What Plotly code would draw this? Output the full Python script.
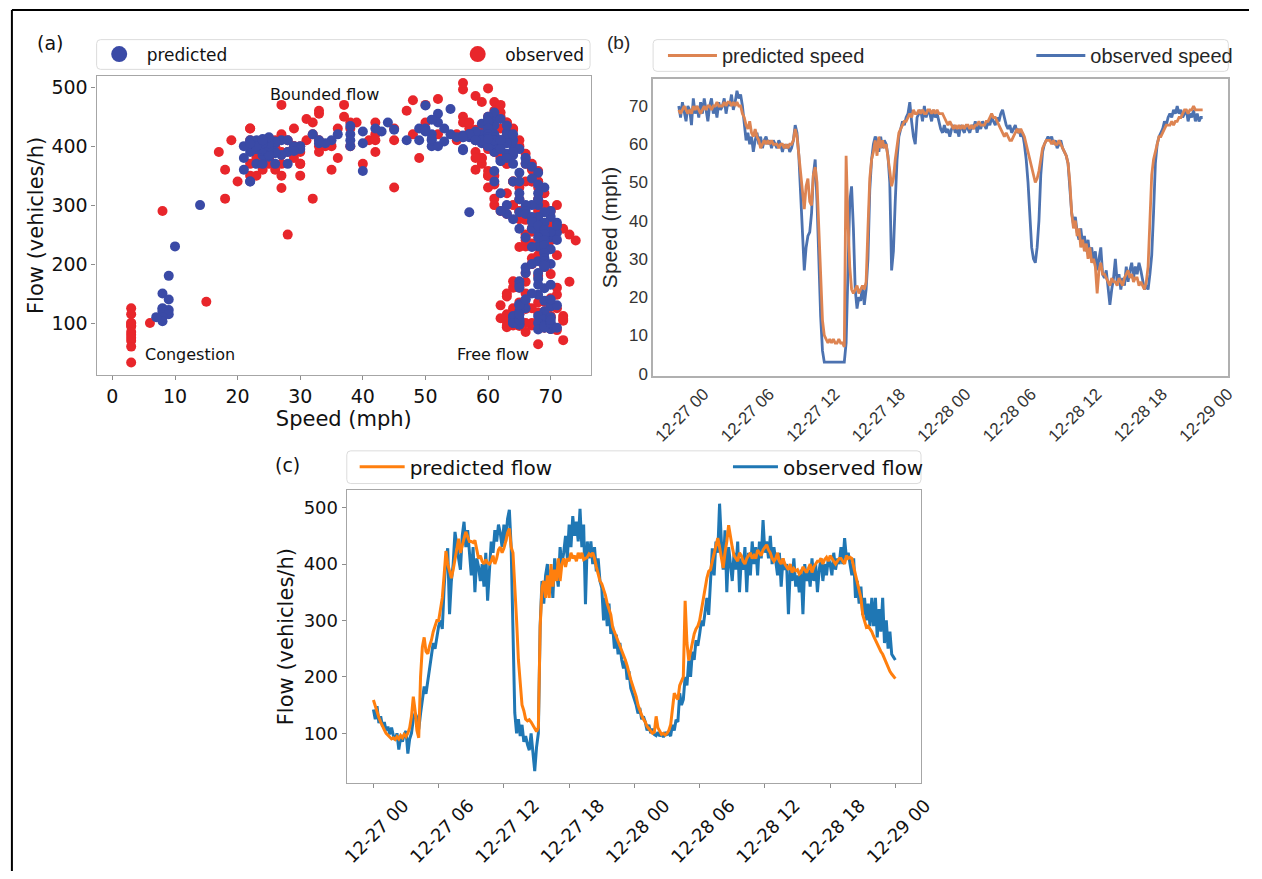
import pandas as pd
import plotly.graph_objects as go

# ---------------- data (10-minute samples, 12-27 00:00 -> 12-29 00:00) ----------------
start_time = "2017-12-27 00:00"
end_time = "2017-12-29 00:00"
step = "10min"

observed_speed = [
    70, 67, 71, 68, 66, 70,  69, 65, 72, 68, 70, 67,  71, 68, 72, 69, 66, 70,
    72, 68, 70, 67, 71, 69,  70, 72, 68, 71, 70, 73,  69, 71, 74, 72, 73, 70,
    65, 61, 63, 60, 62, 58,  61, 63, 60, 62, 59, 61,  62, 60, 61, 59, 61, 60,
    59, 61, 60, 58, 60, 59,  60, 58, 59, 61, 65, 63,  57, 47, 38, 27, 33, 36,
    37, 42, 52, 56, 45, 28,  15, 6, 3, 3, 3, 3,       3, 3, 3, 3, 3, 3,
    3, 3, 8, 30, 45, 49,     38, 22, 17, 20, 19, 23,  18, 22, 30, 48, 56, 60,
    62, 61, 58, 62, 59, 61,  60, 57, 50, 27, 32, 45,  56, 62, 64, 66, 65, 67,
    68, 71, 66, 62, 60, 67,  68, 69, 66, 70, 67, 69,  68, 66, 69, 67, 68, 66,
    64, 63, 65, 63, 64, 62,  64, 65, 63, 64, 62, 65,  64, 63, 65, 64, 63, 65,
    64, 66, 63, 65, 64, 66,  65, 64, 66, 65, 67, 66,  65, 67, 66, 68, 69, 67,
    65, 64, 65, 63, 64, 65,  63, 64, 62, 63, 60, 56,  50, 42, 33, 30, 29, 33,
    40, 52, 58, 60, 61, 62,  61, 62, 60, 61, 59, 60,  61, 59, 58, 57, 55, 48,
    42, 39, 41, 37, 35, 38,  34, 36, 32, 35, 31, 33,  29, 32, 27, 30, 33, 26,
    25, 27, 23, 18, 22, 25,  30, 24, 26, 22, 25, 23,  28, 24, 27, 29, 25, 28,
    26, 29, 27, 24, 22, 23,  22, 26, 31, 42, 55, 60,  62, 63, 64, 66, 65, 67,
    68, 67, 69, 68, 70, 68,  69, 67, 68, 69, 66, 68,  67, 69, 66, 68, 66, 67,
    67,
]

predicted_speed = [
    69, 68, 69, 70, 69, 68,  69, 68, 70, 69, 70, 69,  68, 69, 70, 69, 70, 70,
    69, 70, 70, 71, 70, 70,  70, 71, 70, 71, 71, 70,  71, 70, 71, 70, 70, 68,
    67, 65, 64, 66, 63, 62,  64, 62, 61, 59, 60, 61,  60, 61, 60, 61, 60, 60,
    60, 59, 60, 60, 59, 60,  59, 60, 60, 61, 64, 62,  57, 51, 47, 43, 49, 51,
    45, 44, 52, 54, 50, 38,  26, 14, 10, 9, 8, 9,     8, 9, 8, 8, 9, 8,
    8, 7, 57, 40, 28, 22,    21, 22, 23, 21, 22, 23,  22, 24, 38, 51, 56, 58,
    61, 57, 62, 59, 61, 59,  60, 57, 53, 49, 51, 56,  60, 63, 64, 65, 66, 66,
    67, 68, 67, 69, 68, 68,  69, 68, 69, 68, 68, 69,  69, 68, 69, 68, 69, 68,
    68, 68, 67, 66, 65, 66,  65, 64, 65, 64, 65, 64,  65, 64, 65, 65, 64, 65,
    64, 65, 65, 66, 65, 65,  65, 66, 66, 67, 68, 67,  67, 66, 65, 64, 63, 62,
    63, 62, 61, 61, 62, 63,  64, 63, 64, 63, 62, 60,  58, 56, 54, 52, 50, 51,
    53, 56, 59, 60, 61, 61,  61, 60, 61, 60, 60, 61,  60, 59, 58, 57, 55, 50,
    42, 38, 40, 36, 38, 33,  35, 32, 34, 30, 33, 29,  30, 28, 21, 27, 29, 26,
    26, 25, 24, 23, 25, 24,  24, 23, 25, 24, 23, 25,  26, 27, 25, 26, 24, 25,
    25, 23, 24, 23, 22, 24,  28, 40, 52, 56, 58, 60,  62, 62, 63, 64, 65, 65,
    65, 66, 65, 66, 66, 67,  67, 68, 69, 69, 68, 69,  69, 70, 69, 69, 69, 69,
    69,
]

observed_flow = [
    142, 125, 148, 118, 130, 112,  120, 105, 112, 98, 110, 96,    88, 100, 71, 92, 85, 98,
    104, 64, 90, 100, 125, 136,    128, 107, 135, 160, 183, 170,  195, 215, 240, 260, 250, 270,
    290, 300, 285, 358, 410, 428,  311, 370, 400, 457, 430, 410,  390, 450, 475, 430, 460, 410,
    380, 430, 350, 410, 395, 370,  400, 360, 420, 335, 400, 440,  420, 460, 440, 470, 455, 430,
    470, 440, 480, 496, 430, 250,  136, 100, 125, 95, 115, 85,    95, 80, 70, 100, 60, 33,
    75, 100, 290, 370, 330, 380,   400, 350, 390, 340, 410, 380,  360, 430, 400, 420, 450, 410,
    470, 430, 485, 450, 475, 440,  498, 430, 470, 329, 440, 410,  440, 400, 430, 387, 410, 370,
    358, 300, 340, 290, 330, 276,  290, 250, 275, 240, 260, 230,  215, 230, 195, 210, 180, 170,
    160, 150, 135, 145, 125, 130,  120, 105, 115, 100, 108, 98,   96, 102, 95, 100, 93, 102,
    98, 100, 95, 115, 105, 124,    120, 171, 150, 160, 200, 185,  229, 200, 245, 230, 265, 255,
    276, 300, 290, 320, 340, 310,  370, 428, 380, 440, 420, 507,  440, 390, 460, 350, 430, 400,
    370, 420, 390, 440, 350, 410,  390, 430, 350, 420, 380, 440,  400, 430, 380, 440, 410, 478,
    420, 440, 410, 450, 400, 430,  400, 380, 420, 360, 410, 390,  400, 311, 390, 370, 410, 360,
    380, 350, 390, 311, 400, 370,  390, 360, 410, 370, 400, 350,  390, 410, 370, 400, 380, 410,
    400, 380, 420, 390, 410, 400,  430, 400, 446, 410, 420, 400,  380, 410, 340, 370, 330, 360,
    310, 340, 300, 330, 290, 340,  290, 340, 270, 320, 280, 340,  260, 300, 250, 280, 240, 235,
    230,
]

predicted_flow = [
    159, 148, 138, 128, 120, 112,  106, 100, 96, 93, 90, 92,      89, 94, 90, 96, 92, 98,
    94, 100, 110, 130, 165, 140,   105, 92, 200, 253, 270, 245,   241, 255, 265, 280, 290, 300,
    300, 320, 340, 380, 423, 400,  385, 375, 390, 410, 430, 445,  420, 435, 445, 457, 450, 440,
    440, 438, 442, 425, 410, 415,  405, 400, 408, 402, 400, 405,  415, 400, 410, 425, 430, 420,
    428, 440, 455, 463, 430, 420,  370, 300, 230, 180, 150, 140,  125, 122, 124, 120, 115, 110,
    103, 110, 288, 358, 370, 340,  380, 340, 400, 360, 390, 370,  410, 370, 400, 410, 395, 410,
    405, 420, 410, 415, 405, 420,  410, 420, 408, 410, 412, 418,  415, 420, 410, 395, 380, 370,
    365, 355, 345, 330, 320, 310,  288, 280, 270, 262, 255, 248,  241, 230, 220, 205, 195, 185,
    175, 165, 150, 140, 132, 125,  120, 112, 108, 104, 100, 102,  130, 110, 103, 98, 100, 97,
    100, 105, 115, 140, 171, 165,  160, 185, 194, 200, 335, 260,  229, 245, 260, 276, 285, 290,
    300, 320, 340, 358, 375, 387,  390, 405, 420, 435, 446, 430,  410, 393, 420, 440, 469, 445,
    430, 415, 410, 405, 420, 415,  405, 400, 410, 415, 420, 410,  415, 410, 425, 420, 415, 425,
    430, 434, 425, 420, 410, 405,  410, 420, 405, 400, 410, 400,  395, 390, 400, 385, 392, 388,
    390, 382, 385, 395, 390, 385,  392, 400, 385, 395, 400, 405,  405, 410, 400, 408, 412, 405,
    415, 410, 405, 400, 405, 410,  410, 405, 400, 415, 410, 412,  410, 395, 380, 370, 355, 340,
    310, 300, 288, 290, 285, 280,  272, 265, 258, 250, 245, 240,  232, 225, 218, 210, 205, 200,
    197,
]

scatter_speed_ticks = [0, 10, 20, 30, 40, 50, 60, 70]
scatter_flow_ticks = [100, 200, 300, 400, 500]
speed_ticks = [0, 10, 20, 30, 40, 50, 60, 70]
flow_ticks = [100, 200, 300, 400, 500]

# ---------------- styling ----------------
W, H = 1262, 879
DV = "DejaVu Sans"
AR = "Liberation Sans"
BLACK = "#111111"
A_BLUE = "#3a4aa6"
A_RED = "#e8262b"
B_ORANGE = "#dd8452"
B_BLUE = "#4c72b0"
C_ORANGE = "#ff7f0e"
C_BLUE = "#1f77b4"


def px(x):
    return x / W


def py(y):
    return 1 - y / H


times = pd.date_range(start_time, periods=len(observed_speed), freq=step)
t0 = pd.Timestamp(start_time)
time_ticks = pd.date_range(start_time, end_time, freq="6h")
time_tick_text = [t.strftime("%m-%d %H") for t in time_ticks]


def trange(a, b):
    return [str(t0 + pd.Timedelta(hours=a)), str(t0 + pd.Timedelta(hours=b))]


fig = go.Figure()

# (a) scatter: speed vs flow pairs
fig.add_trace(go.Scatter(x=observed_speed, y=observed_flow, mode="markers",
                         marker=dict(color=A_RED, size=10, line=dict(width=0)),
                         xaxis="x", yaxis="y", showlegend=False, hoverinfo="skip"))
fig.add_trace(go.Scatter(x=predicted_speed, y=predicted_flow, mode="markers",
                         marker=dict(color=A_BLUE, size=10, line=dict(width=0)),
                         xaxis="x", yaxis="y", showlegend=False, hoverinfo="skip"))
fig.add_trace(go.Scatter(x=[None], y=[None], mode="markers", name="predicted",
                         marker=dict(color=A_BLUE, size=17), xaxis="x", yaxis="y",
                         legend="legend"))
fig.add_trace(go.Scatter(x=[None], y=[None], mode="markers", name="observed",
                         marker=dict(color=A_RED, size=17), xaxis="x", yaxis="y",
                         legend="legend2"))

# (b) speed
fig.add_trace(go.Scatter(x=times, y=observed_speed, mode="lines", name="observed speed",
                         line=dict(color=B_BLUE, width=2.8), xaxis="x2", yaxis="y2",
                         legend="legend4"))
fig.add_trace(go.Scatter(x=times, y=predicted_speed, mode="lines", name="predicted speed",
                         line=dict(color=B_ORANGE, width=2.8), xaxis="x2", yaxis="y2",
                         legend="legend3"))

# (c) flow
fig.add_trace(go.Scatter(x=times, y=observed_flow, mode="lines", name="observed flow",
                         line=dict(color=C_BLUE, width=3), xaxis="x3", yaxis="y3",
                         legend="legend6"))
fig.add_trace(go.Scatter(x=times, y=predicted_flow, mode="lines", name="predicted flow",
                         line=dict(color=C_ORANGE, width=3), xaxis="x3", yaxis="y3",
                         legend="legend5"))


def leg(x_px, y_px, size, family, color, itemwidth):
    return dict(x=px(x_px), y=py(y_px), xanchor="left", yanchor="middle",
                orientation="h", bgcolor="rgba(0,0,0,0)", borderwidth=0,
                font=dict(size=size, family=family, color=color),
                itemwidth=itemwidth, itemclick=False, itemdoubleclick=False)


frame_a = dict(showline=True, mirror=True, linecolor="#a6a6a6", linewidth=1.3,
               showgrid=False, zeroline=False, ticks="outside", ticklen=4,
               tickcolor="#8c8c8c", tickwidth=1)
frame_b = dict(showline=True, mirror=True, linecolor="#b0b0b0", linewidth=1.6,
               showgrid=False, zeroline=False, ticks="")

fig.update_layout(
    width=W, height=H, margin=dict(l=0, r=0, t=0, b=0),
    paper_bgcolor="white", plot_bgcolor="white",
    font=dict(family=DV, color=BLACK),
    xaxis=dict(domain=[px(92), px(594)], range=[-2.52, 76.45], anchor="y",
               tickvals=scatter_speed_ticks, tickfont=dict(size=19, family=DV, color=BLACK),
               title=dict(text="Speed (mph)", font=dict(size=21, family=DV, color=BLACK), standoff=0),
               **frame_a),
    yaxis=dict(domain=[py(378), py(77)], range=[12.6, 518.5], anchor="x",
               tickvals=scatter_flow_ticks, tickfont=dict(size=19, family=DV, color=BLACK),
               title=dict(text="Flow (vehicles/h)", font=dict(size=21, family=DV, color=BLACK), standoff=2),
               **frame_a),
    xaxis2=dict(domain=[px(657), px(1241)], range=trange(-2.35, 50.35), anchor="y2", type="date",
                tickvals=list(time_ticks), ticktext=time_tick_text, tickangle=-45,
                ticklabelshift=25,
                tickfont=dict(size=17, family=AR, color="#333333"), **frame_b),
    yaxis2=dict(domain=[py(379), py(80)], range=[-0.52, 77.0], anchor="x2",
                tickvals=speed_ticks, tickfont=dict(size=17, family=AR, color="#333333"),
                title=dict(text="Speed (mph)", font=dict(size=21, family=AR, color="#262626"), standoff=6),
                **frame_b),
    xaxis3=dict(domain=[px(346), px(929)], range=trange(-2.45, 50.36), anchor="y3", type="date",
                tickvals=list(time_ticks), ticktext=time_tick_text, tickangle=-45,
                ticklabelshift=30,
                tickfont=dict(size=18, family=DV, color=BLACK), **frame_a),
    yaxis3=dict(domain=[py(790), py(495)], range=[12.2, 530.4], anchor="x3",
                tickvals=flow_ticks, tickfont=dict(size=18, family=DV, color=BLACK),
                title=dict(text="Flow (vehicles/h)", font=dict(size=21, family=DV, color=BLACK), standoff=4),
                **frame_a),
    legend=leg(87, 55, 17, DV, BLACK, 45),
    legend2=leg(451, 55, 17, DV, BLACK, 45),
    legend3=leg(667, 56, 20, AR, "#262626", 49),
    legend4=leg(1041, 56, 20, AR, "#262626", 49),
    legend5=leg(354, 471, 20, DV, BLACK, 45),
    legend6=leg(733, 471, 20, DV, BLACK, 45),
)


def rounded_box(x0, y0, x1, y1, r=4):
    X0, X1 = px(x0), px(x1)
    Y0, Y1 = py(y1), py(y0)  # bottom, top in paper
    rx, ry = r / W, r / H
    return (f"M {X0+rx},{Y1} L {X1-rx},{Y1} Q {X1},{Y1} {X1},{Y1-ry} "
            f"L {X1},{Y0+ry} Q {X1},{Y0} {X1-rx},{Y0} L {X0+rx},{Y0} "
            f"Q {X0},{Y0} {X0},{Y0+ry} L {X0},{Y1-ry} Q {X0},{Y1} {X0+rx},{Y1} Z")


shapes = []
for box in [(92, 40, 593, 70), (657, 40, 1241, 72), (346, 455, 929, 488)]:
    shapes.append(dict(type="path", path=rounded_box(*box), xref="paper", yref="paper",
                       line=dict(color="#dcdcdc", width=1), fillcolor="white", layer="below"))
# outer black frame (top and left edges)
shapes.append(dict(type="line", xref="paper", yref="paper", x0=px(6), x1=1, y0=py(10), y1=py(10),
                   line=dict(color="black", width=2)))
shapes.append(dict(type="line", xref="paper", yref="paper", x0=px(6), x1=px(6), y0=py(10), y1=0,
                   line=dict(color="black", width=2)))
fig.update_layout(shapes=shapes)

ann = []


def text(x, y, s, size, family, xanchor="center", color=BLACK):
    ann.append(dict(x=px(x), y=py(y), xref="paper", yref="paper", text=s, showarrow=False,
                    xanchor=xanchor, yanchor="middle", font=dict(size=size, family=family, color=color)))


text(45, 43, "(a)", 19, DV)
text(622, 43, "(b)", 19, AR, color="#262626")
text(286, 469, "(c)", 19, DV)
text(323, 95, "Bounded flow", 16, DV)
text(139, 358, "Congestion", 16, DV, xanchor="left")
text(494, 358, "Free flow", 16, DV)
fig.update_layout(annotations=ann)

fig.write_html("out.html")
